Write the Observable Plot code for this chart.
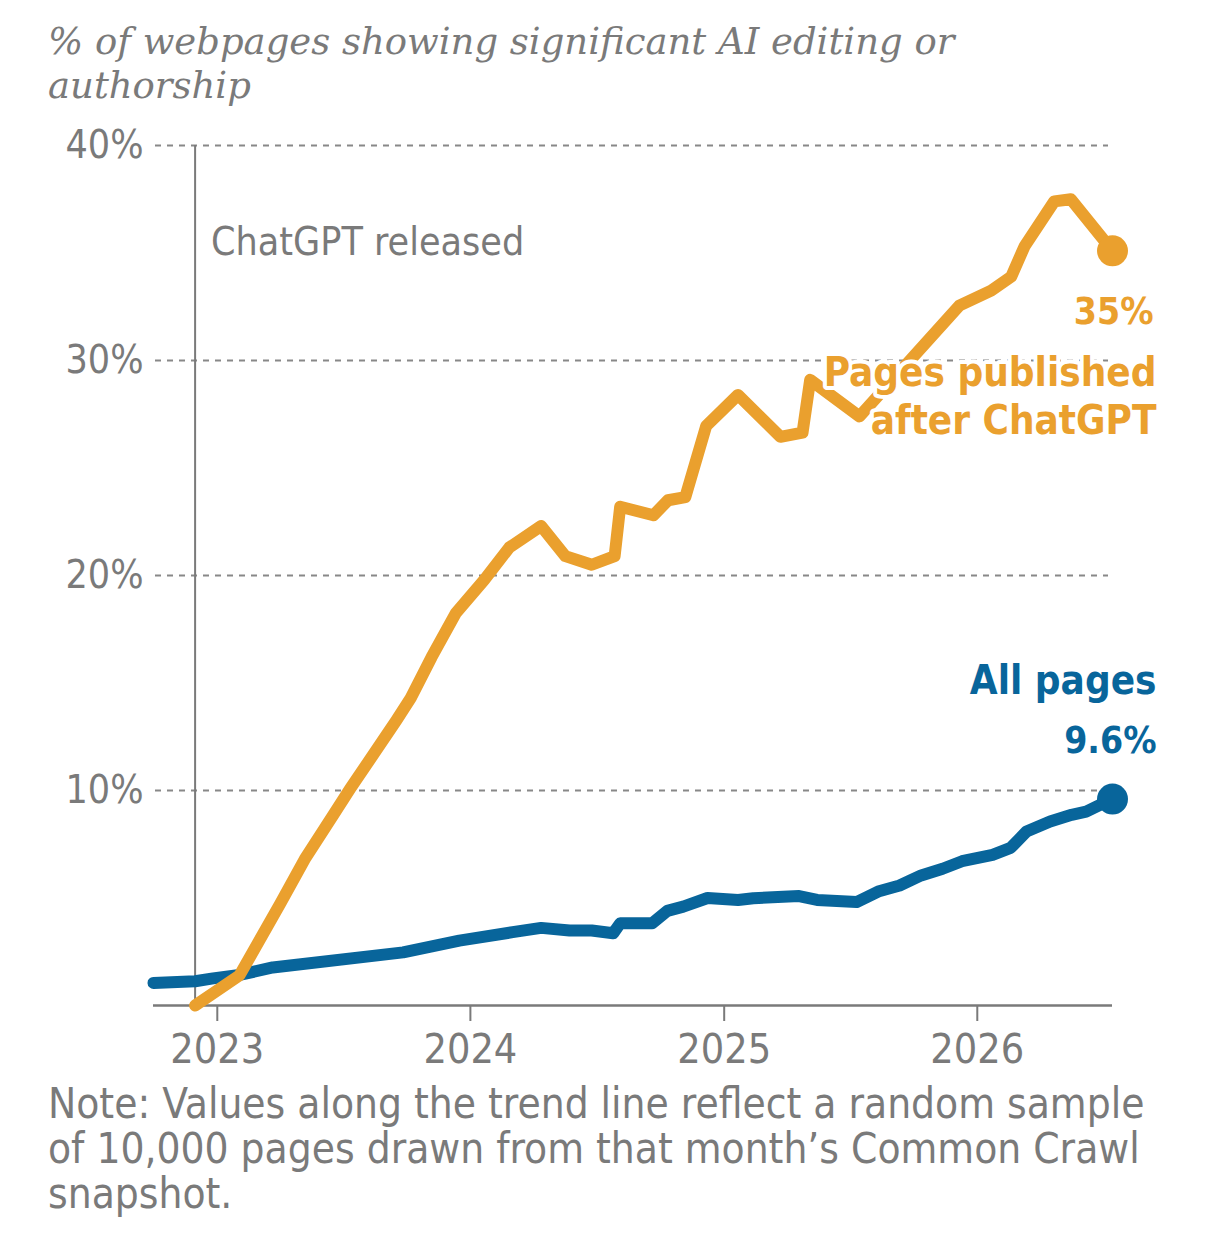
<!DOCTYPE html>
<html>
<head>
<meta charset="utf-8">
<script src="https://cdn.jsdelivr.net/npm/d3@7"></script>
<script src="https://cdn.jsdelivr.net/npm/@observablehq/plot@0.6"></script>
<style>
  html, body { margin: 0; padding: 0; background: #fff; }
  body { width: 1206px; height: 1245px; position: relative; overflow: hidden; }
  #title {
    position: absolute; left: 48px; top: 20px; width: 1150px;
    font-family: "DejaVu Serif", serif; font-style: italic;
    font-size: 37px; line-height: 44px; color: #7a7a7a;
  }
  #chart { position: absolute; left: 0; top: 110px; }
  #note {
    position: absolute; left: 48px; top: 1081px; width: 1150px;
    font-family: "DejaVu Sans Condensed", sans-serif;
    font-size: 42px; line-height: 45px; color: #7a7a7a;
  }
  svg text { font-family: "DejaVu Sans Condensed", sans-serif; }
</style>
</head>
<body>
<div id="title">% of webpages showing significant AI editing or<br>authorship</div>
<div id="chart"></div>
<div id="note">Note: Values along the trend line reflect a random sample<br>of 10,000 pages drawn from that month’s Common Crawl<br>snapshot.</div>
<script>
// ---- Data ----
const releaseDate = "2022-11-30";
const releaseLabel = "ChatGPT released";

const afterDates = [
  "2022-11-30","2023-02-02","2023-04-02","2023-05-07","2023-06-17","2023-07-12",
  "2023-09-16","2023-10-07","2023-11-06","2023-12-11","2024-01-21","2024-02-26",
  "2024-04-12","2024-05-17","2024-06-24","2024-07-27","2024-08-04","2024-09-21",
  "2024-10-12","2024-11-06","2024-12-06","2025-01-21","2025-03-23","2025-04-24",
  "2025-05-05","2025-07-15","2025-12-06","2026-01-21","2026-02-19","2026-03-10",
  "2026-04-22","2026-05-16","2026-07-15"
];
const afterValues = [
  0, 1.4, 4.75, 6.8, 8.85, 10.1,
  13.25, 14.3, 16.2, 18.25, 19.8, 21.3,
  22.3, 20.9, 20.5, 20.9, 23.2, 22.8,
  23.5, 23.65, 26.95, 28.4, 26.45, 26.65,
  29.1, 27.4, 32.55, 33.25, 33.9, 35.3,
  37.4, 37.5, 35.1
];

const allDates = [
  "2022-10-01","2022-11-30","2022-12-26","2023-02-02","2023-03-22","2023-09-26",
  "2023-12-16","2024-03-02","2024-04-12","2024-05-23","2024-06-24","2024-07-25",
  "2024-08-04","2024-09-19","2024-10-11","2024-11-03","2024-12-08","2025-01-21",
  "2025-02-12","2025-04-19","2025-05-15","2025-07-11","2025-08-11","2025-09-11",
  "2025-10-12","2025-11-12","2025-12-10","2026-01-23","2026-02-18","2026-03-13",
  "2026-04-16","2026-05-17","2026-06-07","2026-06-27","2026-07-15"
];
const allValues = [
  1.05, 1.13, 1.26, 1.42, 1.77, 2.47,
  3.02, 3.41, 3.61, 3.49, 3.49, 3.36,
  3.82, 3.82, 4.4, 4.6, 5.0, 4.91,
  4.99, 5.09, 4.91, 4.81, 5.3, 5.58,
  6.05, 6.36, 6.71, 7.01, 7.33, 8.09,
  8.56, 8.87, 9.02, 9.33, 9.6
];

const yTicks = [10, 20, 30, 40];
const xTicks = ["2023-01-01", "2024-01-01", "2025-01-01", "2026-01-01"];
const xDomain = ["2022-10-01", "2026-07-15"];

const afterName = ["Pages published", "after ChatGPT"];
const allName = "All pages";
const afterEndLabel = "35%";
const allEndLabel = "9.6%";

const ORANGE = "#EAA02E";
const BLUE = "#08659B";
const GRAY = "#7a7a7a";

// ---- Build tables ----
const after = afterDates.map((d, i) => ({date: new Date(d), value: afterValues[i]}));
const all = allDates.map((d, i) => ({date: new Date(d), value: allValues[i]}));
const afterLast = after[after.length - 1];
const allLast = all[all.length - 1];

const chart = Plot.plot({
  width: 1206,
  height: 965,
  marginLeft: 153,
  marginRight: 94,
  marginTop: 35,
  marginBottom: 70,
  style: {fontSize: "32px", color: GRAY, background: "white"},
  x: {type: "utc", domain: xDomain.map(d => new Date(d))},
  y: {domain: [0, 40]},
  marks: [
    Plot.gridY(yTicks, {stroke: "#888", strokeOpacity: 1, strokeWidth: 2, strokeDasharray: "6,6", insetLeft: 2, insetRight: 4}),
    Plot.axisY(yTicks, {tickSize: 0, tickPadding: 10, tickFormat: d => d + "%", fill: GRAY, fontSize: 39, label: null}),
    Plot.ruleX([new Date(releaseDate)], {y1: 0, y2: 40, stroke: GRAY, strokeWidth: 2}),
    Plot.text([releaseLabel], {x: new Date(releaseDate), y: 35.5, dx: 16, textAnchor: "start", fill: GRAY, fontSize: 39}),
    Plot.ruleY([0], {stroke: GRAY, strokeWidth: 2.5}),
    Plot.axisX(xTicks.map(d => new Date(d)), {tickSize: 16, tickPadding: 12, tickFormat: d3.utcFormat("%Y"), stroke: GRAY, strokeWidth: 2, fill: GRAY, fontSize: 41, label: null}),
    Plot.line(all, {x: "date", y: "value", stroke: BLUE, strokeWidth: 12, strokeLinejoin: "round"}),
    Plot.line(after, {x: "date", y: "value", stroke: ORANGE, strokeWidth: 12, strokeLinejoin: "round"}),
    Plot.dot([allLast], {x: "date", y: "value", r: 15.5, fill: BLUE}),
    Plot.dot([afterLast], {x: "date", y: "value", r: 15.5, fill: ORANGE}),
    Plot.text([afterLast], {x: "date", y: "value", text: () => afterEndLabel, dx: 41, dy: 61, textAnchor: "end", fill: ORANGE, fontSize: 37, fontWeight: "bold"}),
    Plot.text([afterLast], {x: "date", y: "value", text: () => afterName.join("\n"), lineHeight: 1.2, dx: 44, dy: 144, textAnchor: "end", fill: ORANGE, stroke: "white", strokeWidth: 8, paintOrder: "stroke", fontSize: 40, fontWeight: "bold"}),
    Plot.text([allLast], {x: "date", y: "value", text: () => allName, dx: 44, dy: -118, textAnchor: "end", fill: BLUE, fontSize: 40, fontWeight: "bold"}),
    Plot.text([allLast], {x: "date", y: "value", text: () => allEndLabel, dx: 44, dy: -58, textAnchor: "end", fill: BLUE, fontSize: 37, fontWeight: "bold"})
  ]
});
document.getElementById("chart").appendChild(chart);
</script>
</body>
</html>
